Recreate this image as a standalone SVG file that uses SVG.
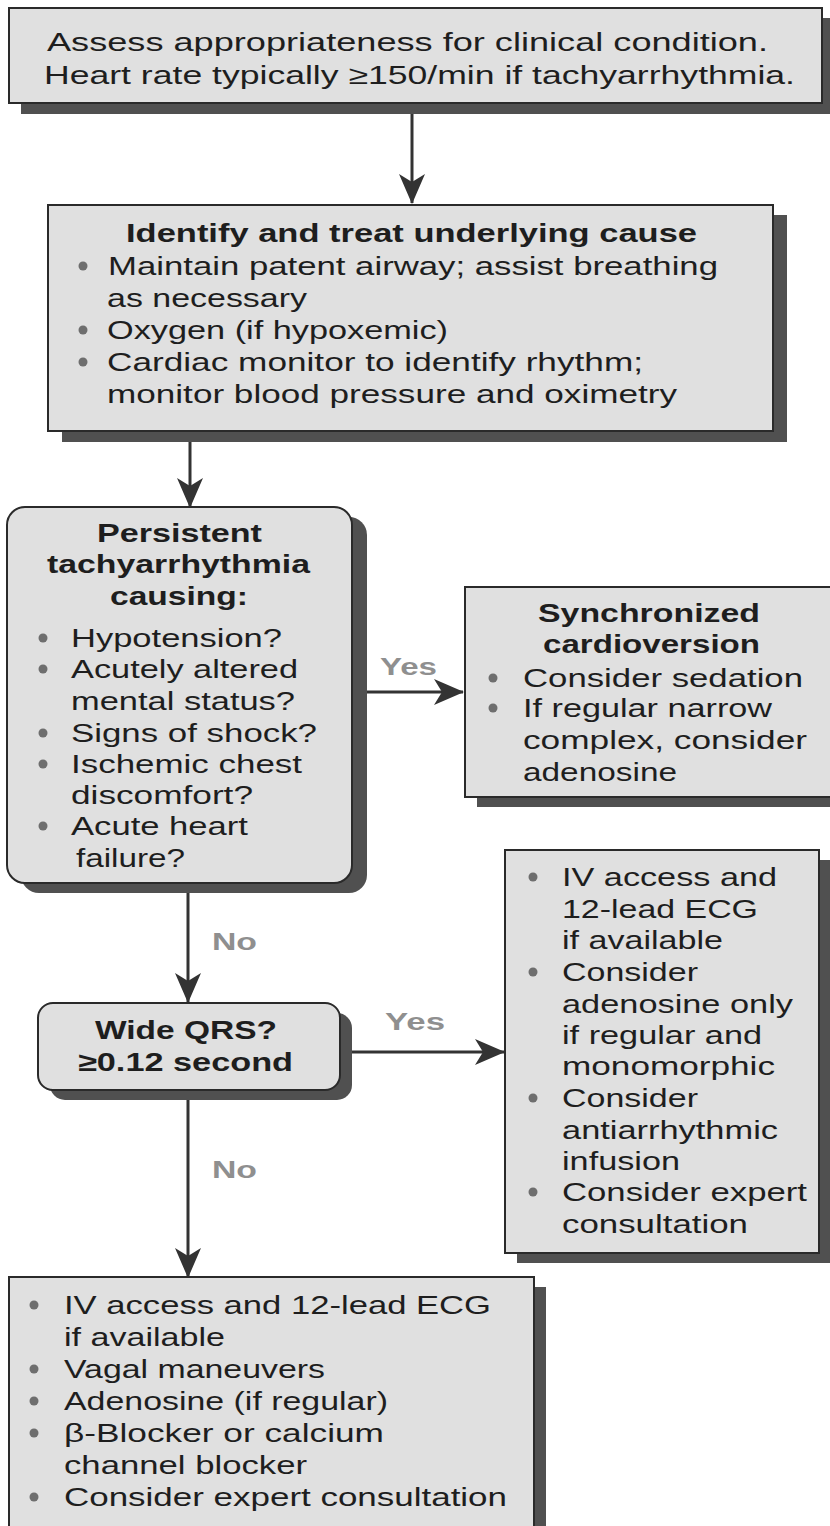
<svg xmlns="http://www.w3.org/2000/svg" width="830" height="1526" viewBox="0 0 830 1526">
<defs>
<style>
.box{fill:#e0e0e0;stroke:#2a2a2a;stroke-width:2}
.sh{fill:#505050}
.t{font-family:"Liberation Sans",Arial,Helvetica,sans-serif;font-size:26px;fill:#1e1e1e}
.b{font-weight:bold}
.lbl{font-family:"Liberation Sans",Arial,Helvetica,sans-serif;font-size:23px;font-weight:bold;fill:#8f8f8f}
.dot{fill:#6e6e6e}
.ln{stroke:#333333;stroke-width:3;fill:none}
</style>
<marker id="ah" viewBox="0 0 30 26" refX="29" refY="13" markerWidth="30" markerHeight="26" markerUnits="userSpaceOnUse" orient="auto">
<path d="M0,0 L30,13 L0,26 L8,13 Z" fill="#333333"/>
</marker>
</defs>
<rect width="830" height="1526" fill="#ffffff"/>

<g id="connectors">
<line class="ln" x1="412" y1="113" x2="412" y2="203" marker-end="url(#ah)"/>
<line class="ln" x1="190" y1="442" x2="190" y2="507" marker-end="url(#ah)"/>
<line class="ln" x1="367" y1="692" x2="463" y2="692" marker-end="url(#ah)"/>
<line class="ln" x1="188" y1="893" x2="188" y2="1002" marker-end="url(#ah)"/>
<line class="ln" x1="352" y1="1052" x2="504" y2="1052" marker-end="url(#ah)"/>
<line class="ln" x1="188" y1="1100" x2="188" y2="1277" marker-end="url(#ah)"/>
<text class="lbl" x="380" y="675" textLength="57" lengthAdjust="spacingAndGlyphs">Yes</text>
<text class="lbl" x="212" y="950" textLength="45" lengthAdjust="spacingAndGlyphs">No</text>
<text class="lbl" x="385" y="1030" textLength="60" lengthAdjust="spacingAndGlyphs">Yes</text>
<text class="lbl" x="212" y="1178" textLength="45" lengthAdjust="spacingAndGlyphs">No</text>
</g>

<g id="assess">
<rect class="sh" x="21" y="18" width="820" height="96"/>
<rect class="box" x="9" y="8" width="813" height="95"/>
<text class="t" x="47" y="51" textLength="721" lengthAdjust="spacingAndGlyphs">Assess appropriateness for clinical condition.</text>
<text class="t" x="44" y="84" textLength="751" lengthAdjust="spacingAndGlyphs">Heart rate typically ≥150/min if tachyarrhythmia.</text>
</g>

<g id="identify">
<rect class="sh" x="62" y="215" width="725" height="227"/>
<rect class="box" x="48" y="205" width="725" height="226"/>
<text class="t b" x="126" y="242" textLength="571" lengthAdjust="spacingAndGlyphs">Identify and treat underlying cause</text>
<circle class="dot" cx="83" cy="266" r="4.5"/>
<text class="t" x="108" y="275" textLength="610" lengthAdjust="spacingAndGlyphs">Maintain patent airway; assist breathing</text>
<text class="t" x="107" y="307" textLength="200" lengthAdjust="spacingAndGlyphs">as necessary</text>
<circle class="dot" cx="83" cy="330" r="4.5"/>
<text class="t" x="107" y="339" textLength="341" lengthAdjust="spacingAndGlyphs">Oxygen (if hypoxemic)</text>
<circle class="dot" cx="83" cy="362" r="4.5"/>
<text class="t" x="107" y="371" textLength="536" lengthAdjust="spacingAndGlyphs">Cardiac monitor to identify rhythm;</text>
<text class="t" x="107" y="403" textLength="570" lengthAdjust="spacingAndGlyphs">monitor blood pressure and oximetry</text>
</g>

<g id="persistent">
<rect class="sh" x="21" y="517" width="346" height="376" rx="18"/>
<rect class="box" x="7" y="507" width="345" height="376" rx="18"/>
<text class="t b" x="97" y="542" textLength="165" lengthAdjust="spacingAndGlyphs">Persistent</text>
<text class="t b" x="47" y="573" textLength="263" lengthAdjust="spacingAndGlyphs">tachyarrhythmia</text>
<text class="t b" x="110" y="605" textLength="138" lengthAdjust="spacingAndGlyphs">causing:</text>
<circle class="dot" cx="43" cy="638" r="4.5"/>
<text class="t" x="71" y="647" textLength="211" lengthAdjust="spacingAndGlyphs">Hypotension?</text>
<circle class="dot" cx="43" cy="669" r="4.5"/>
<text class="t" x="71" y="678" textLength="227" lengthAdjust="spacingAndGlyphs">Acutely altered</text>
<text class="t" x="71" y="710" textLength="224" lengthAdjust="spacingAndGlyphs">mental status?</text>
<circle class="dot" cx="43" cy="733" r="4.5"/>
<text class="t" x="71" y="742" textLength="246" lengthAdjust="spacingAndGlyphs">Signs of shock?</text>
<circle class="dot" cx="43" cy="764" r="4.5"/>
<text class="t" x="71" y="773" textLength="231" lengthAdjust="spacingAndGlyphs">Ischemic chest</text>
<text class="t" x="71" y="804" textLength="182" lengthAdjust="spacingAndGlyphs">discomfort?</text>
<circle class="dot" cx="43" cy="826" r="4.5"/>
<text class="t" x="71" y="835" textLength="177" lengthAdjust="spacingAndGlyphs">Acute heart</text>
<text class="t" x="76" y="867" textLength="109" lengthAdjust="spacingAndGlyphs">failure?</text>
</g>

<g id="cardioversion">
<rect class="sh" x="477" y="597" width="360" height="210"/>
<rect class="box" x="465" y="587" width="370" height="210"/>
<text class="t b" x="538" y="622" textLength="222" lengthAdjust="spacingAndGlyphs">Synchronized</text>
<text class="t b" x="543" y="653" textLength="217" lengthAdjust="spacingAndGlyphs">cardioversion</text>
<circle class="dot" cx="493" cy="678" r="4.5"/>
<text class="t" x="523" y="687" textLength="280" lengthAdjust="spacingAndGlyphs">Consider sedation</text>
<circle class="dot" cx="493" cy="708" r="4.5"/>
<text class="t" x="523" y="717" textLength="249" lengthAdjust="spacingAndGlyphs">If regular narrow</text>
<text class="t" x="523" y="749" textLength="284" lengthAdjust="spacingAndGlyphs">complex, consider</text>
<text class="t" x="523" y="781" textLength="154" lengthAdjust="spacingAndGlyphs">adenosine</text>
</g>

<g id="wideqrs">
<rect class="sh" x="50" y="1013" width="302" height="87" rx="15"/>
<rect class="box" x="38" y="1003" width="302" height="87" rx="15"/>
<text class="t b" x="95" y="1039" textLength="182" lengthAdjust="spacingAndGlyphs">Wide QRS?</text>
<text class="t b" x="78" y="1071" textLength="215" lengthAdjust="spacingAndGlyphs">≥0.12 second</text>
</g>

<g id="widetx">
<rect class="sh" x="517" y="860" width="320" height="403"/>
<rect class="box" x="505" y="850" width="314" height="403"/>
<circle class="dot" cx="533" cy="877" r="4.5"/>
<text class="t" x="562" y="886" textLength="215" lengthAdjust="spacingAndGlyphs">IV access and</text>
<text class="t" x="562" y="918" textLength="196" lengthAdjust="spacingAndGlyphs">12-lead ECG</text>
<text class="t" x="562" y="949" textLength="161" lengthAdjust="spacingAndGlyphs">if available</text>
<circle class="dot" cx="533" cy="972" r="4.5"/>
<text class="t" x="562" y="981" textLength="136" lengthAdjust="spacingAndGlyphs">Consider</text>
<text class="t" x="562" y="1013" textLength="231" lengthAdjust="spacingAndGlyphs">adenosine only</text>
<text class="t" x="562" y="1044" textLength="200" lengthAdjust="spacingAndGlyphs">if regular and</text>
<text class="t" x="562" y="1075" textLength="213" lengthAdjust="spacingAndGlyphs">monomorphic</text>
<circle class="dot" cx="533" cy="1098" r="4.5"/>
<text class="t" x="562" y="1107" textLength="136" lengthAdjust="spacingAndGlyphs">Consider</text>
<text class="t" x="562" y="1139" textLength="216" lengthAdjust="spacingAndGlyphs">antiarrhythmic</text>
<text class="t" x="562" y="1170" textLength="118" lengthAdjust="spacingAndGlyphs">infusion</text>
<circle class="dot" cx="533" cy="1192" r="4.5"/>
<text class="t" x="562" y="1201" textLength="245" lengthAdjust="spacingAndGlyphs">Consider expert</text>
<text class="t" x="562" y="1233" textLength="186" lengthAdjust="spacingAndGlyphs">consultation</text>
</g>

<g id="narrowtx">
<rect class="sh" x="21" y="1287" width="525" height="260"/>
<rect class="box" x="9" y="1277" width="525" height="260"/>
<circle class="dot" cx="34" cy="1305" r="4.5"/>
<text class="t" x="64" y="1314" textLength="427" lengthAdjust="spacingAndGlyphs">IV access and 12-lead ECG</text>
<text class="t" x="64" y="1346" textLength="161" lengthAdjust="spacingAndGlyphs">if available</text>
<circle class="dot" cx="34" cy="1369" r="4.5"/>
<text class="t" x="64" y="1378" textLength="261" lengthAdjust="spacingAndGlyphs">Vagal maneuvers</text>
<circle class="dot" cx="34" cy="1401" r="4.5"/>
<text class="t" x="64" y="1410" textLength="324" lengthAdjust="spacingAndGlyphs">Adenosine (if regular)</text>
<circle class="dot" cx="34" cy="1433" r="4.5"/>
<text class="t" x="64" y="1442" textLength="320" lengthAdjust="spacingAndGlyphs">β-Blocker or calcium</text>
<text class="t" x="64" y="1474" textLength="243" lengthAdjust="spacingAndGlyphs">channel blocker</text>
<circle class="dot" cx="34" cy="1497" r="4.5"/>
<text class="t" x="64" y="1506" textLength="443" lengthAdjust="spacingAndGlyphs">Consider expert consultation</text>
</g>
</svg>
